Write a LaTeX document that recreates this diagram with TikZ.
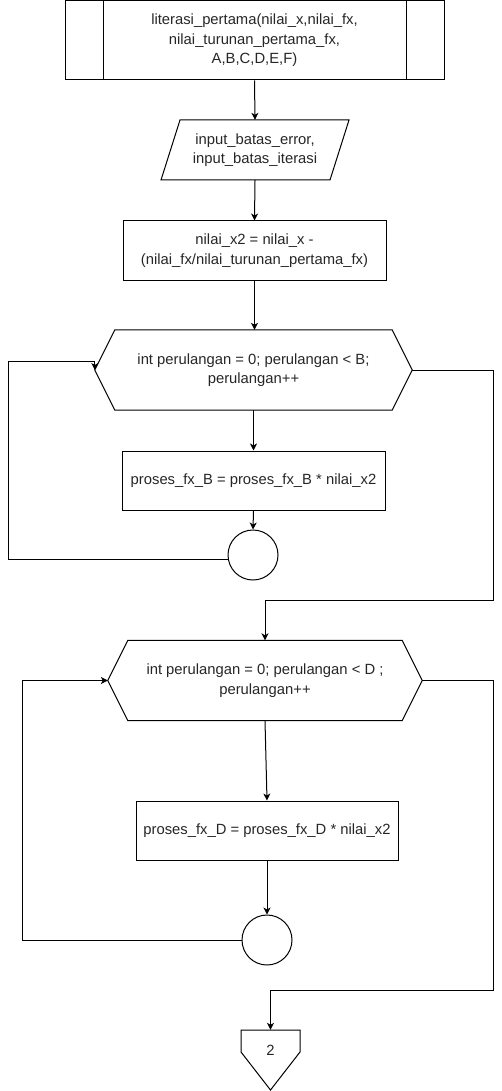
\documentclass[tikz,border=0pt]{standalone}
\usepackage{fontspec}
\setmainfont{Liberation Sans}
\usetikzlibrary{arrows.meta,calc}
\begin{document}
\begin{tikzpicture}[x=1pt,y=-1pt,
  every node/.style={font=\fontsize{14.8}{19.5}\selectfont, text=black!85, align=center, inner sep=0pt},
  box/.style={draw, line width=1pt, minimum width=263pt, minimum height=59pt},
  txt/.style={minimum width=#1},
  shp/.style={line width=1pt, line join=miter},
  conn/.style={line width=1pt, -{Stealth[length=7pt,width=7pt,inset=2pt]}},
  circ/.style={draw, line width=1pt, circle, minimum size=50pt},
]
\useasboundingbox (0,0) rectangle (501,1091);

% start process
\node[draw, line width=1pt, minimum width=379pt, minimum height=79pt] (start) at (254.5,40.5)
  {literasi\_pertama(nilai\_x,nilai\_fx,\\nilai\_turunan\_pertama\_fx,\\A,B,C,D,E,F)};
\draw[shp] (103,1) -- (103,80) (406,1) -- (406,80);

% input parallelogram
\node[minimum width=170pt, minimum height=60pt] (inp) at (255,150)
  {input\_batas\_error,\\input\_batas\_iterasi};
\draw[shp] (180,120) -- (349,120) -- (330,180) -- (161,180) -- cycle;

% process
\node[box] (p1) at (254.5,250.5) {nilai\_x2 = nilai\_x -\\(nilai\_fx/nilai\_turunan\_pertama\_fx)};

% hexagon 1
\node[minimum width=317pt, minimum height=80pt] (h1) at (253.5,370)
  {int perulangan = 0; perulangan < B;\\perulangan++};
\draw[shp] (h1.west) -- ($(h1.north west)+(20,0)$) -- ($(h1.north east)+(-20,0)$) -- (h1.east)
  -- ($(h1.south east)+(-20,0)$) -- ($(h1.south west)+(20,0)$) -- cycle;

\node[box] (pb) at (253.5,480.5) {proses\_fx\_B = proses\_fx\_B * nilai\_x2};
\node[circ] (c1) at (253,555) {};

% hexagon 2
\node[minimum width=314pt, minimum height=80pt] (h2) at (265,680.5)
  {int perulangan = 0; perulangan < D ;\\perulangan++};
\draw[shp] (h2.west) -- ($(h2.north west)+(20,0)$) -- ($(h2.north east)+(-20,0)$) -- (h2.east)
  -- ($(h2.south east)+(-20,0)$) -- ($(h2.south west)+(20,0)$) -- cycle;

\node[box, minimum width=262pt] (pd) at (267,830.5) {proses\_fx\_D = proses\_fx\_D * nilai\_x2};
\node[circ] (c2) at (267,940) {};

% off-page connector
\node[minimum width=59pt, minimum height=40pt] (off) at (270.5,1050) {2};
\draw[shp] (241,1030) -- (300,1030) -- (300,1052) -- (270.5,1090) -- (241,1052) -- cycle;

% coordinates for routing
\coordinate (l1) at (8,361);
\coordinate (r1) at (493,600);
\coordinate (l2) at (22,940);
\coordinate (r2) at (493,990);

% connectors
\draw[conn] (start.south) -- (inp.north);
\draw[conn] (inp.south) -- (p1.north);
\draw[conn] (p1.south) -- (p1.south |- h1.north);
\draw[conn] (h1.south) -- (pb.north);
\draw[conn] (pb.south) -- (c1.north);
\draw[conn] (c1.191) -| (l1) -| (h1.west);
\draw[conn] (h1.east) -| (r1) -| (h2.north);
\draw[conn] (h2.south) -- (pd.north);
\draw[conn] (pd.south) -- (c2.north);
\draw[conn] (c2.west) -- (l2) |- (h2.west);
\draw[conn] (h2.east) -| (r2) -| (off.north);
\end{tikzpicture}
\end{document}
